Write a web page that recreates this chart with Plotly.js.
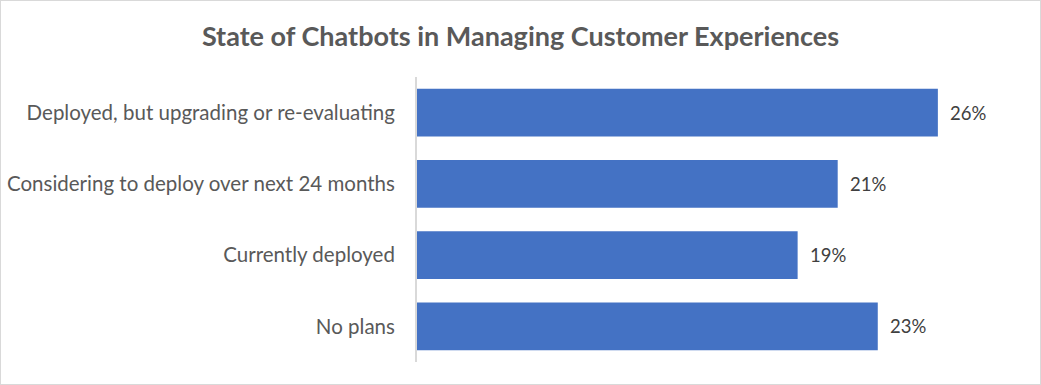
<!DOCTYPE html>
<html>
<head>
<meta charset="utf-8">
<script src="https://cdn.plot.ly/plotly-3.0.1.min.js"></script>
<style>
  html, body { margin: 0; padding: 0; background: #ffffff; }
  #chart { width: 1041px; height: 385px; box-sizing: border-box; border: 1px solid #d9d9d9; }
</style>
</head>
<body>
<div id="chart"></div>
<script>
// Categories listed bottom-to-top (Plotly category order)
const categories = [
  "No plans",
  "Currently deployed",
  "Considering to deploy over next 24 months",
  "Deployed, but upgrading or re-evaluating"
];
const values = [23, 19, 21, 26];
const valueLabels = ["23%", "19%", "21%", "26%"];
const chartTitle = "State of Chatbots in Managing Customer Experiences";

const FONT = "Lato, 'Open Sans', sans-serif";

const trace = {
  type: "bar",
  orientation: "h",
  x: values,
  y: categories,
  marker: { color: "#4472C4" },
  hoverinfo: "skip"
};

const annotations = values.map((v, i) => ({
  x: v,
  y: categories[i],
  xref: "x",
  yref: "y",
  text: valueLabels[i],
  showarrow: false,
  xanchor: "left",
  yanchor: "middle",
  xshift: 10,
  font: { family: FONT, size: 18.5, color: "#404040" }
}));

const layout = {
  width: 1039,
  height: 383,
  margin: { l: 416, r: 22, t: 76, b: 22, pad: 0 },
  paper_bgcolor: "#ffffff",
  plot_bgcolor: "#ffffff",
  bargap: 0.33,
  showlegend: false,
  title: {
    text: "<b>" + chartTitle + "</b>",
    x: 0.5,
    xanchor: "center",
    xref: "container",
    y: 1 - 36 / 383,
    yanchor: "middle",
    yref: "container",
    font: { family: FONT, size: 27, color: "#595959" }
  },
  xaxis: {
    range: [0, 30],
    showgrid: false,
    zeroline: false,
    showline: false,
    showticklabels: false,
    ticks: "",
    fixedrange: true
  },
  yaxis: {
    type: "category",
    categoryorder: "array",
    categoryarray: categories,
    showgrid: false,
    zeroline: false,
    showline: true,
    linecolor: "#d9d9d9",
    linewidth: 2,
    ticks: "",
    ticklabelstandoff: 16,
    tickfont: { family: FONT, size: 20.5, color: "#595959" },
    fixedrange: true
  },
  annotations: annotations
};

Plotly.newPlot("chart", [trace], layout, { displayModeBar: false, staticPlot: true });
</script>
</body>
</html>
